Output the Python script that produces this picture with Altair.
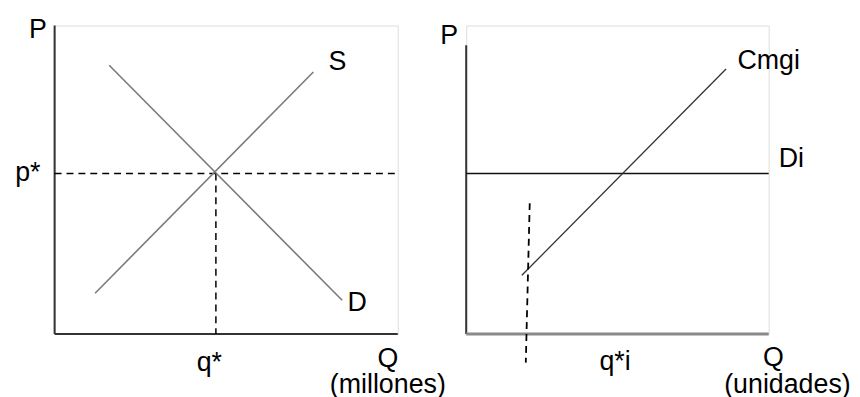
import altair as alt
import pandas as pd

FONT = "Liberation Sans"
FS = 27

# ---------- left panel: market ----------
p_star = 5.2
q_star = 4.7
supply_q = [1.18, 7.54]
supply_p = [1.32, 8.49]
demand_q = [1.59, 8.38]
demand_p = [8.71, 1.09]

left_labels = ["P", "S", "p*", "D", "q*", "Q", "(millones)"]
left_label_q = [-0.49, 8.24, -0.78, 8.82, 4.51, 9.71, 9.71]
left_label_p = [9.58, 8.55, 4.95, 0.74, -1.19, -1.06, -1.93]

# ---------- right panel: firm ----------
di_p = 5.2
cmg_q = [1.84, 8.59]
cmg_p = [1.90, 8.59]
qi_dash_q = [2.10, 1.97]
qi_dash_p = [4.24, -0.93]

right_labels = ["P", "Cmgi", "Di", "q*i", "Q", "(unidades)"]
right_label_q = [-0.56, 10.0, 10.75, 4.92, 10.16, 10.62]
right_label_p = [9.39, 8.59, 5.40, -1.16, -1.03, -1.93]

W1, W2, H = 346, 305, 311
xs = alt.Scale(domain=[0, 10], nice=False, zero=False)
ys = alt.Scale(domain=[0, 10], nice=False, zero=False)


def seg(q, p, color, width, dash=None):
    df = pd.DataFrame({"q": q, "p": p, "o": list(range(len(q)))})
    kw = dict(color=color, strokeWidth=width, clip=False, strokeCap="butt")
    if dash:
        kw["strokeDash"] = dash
    return alt.Chart(df).mark_line(**kw).encode(
        x=alt.X("q:Q", scale=xs, axis=None),
        y=alt.Y("p:Q", scale=ys, axis=None),
        order="o:Q",
    )


def labels(txt, q, p):
    df = pd.DataFrame({"t": txt, "q": q, "p": p})
    return alt.Chart(df).mark_text(
        font=FONT, fontSize=FS, color="#000000", align="center",
        baseline="alphabetic", clip=False
    ).encode(
        x=alt.X("q:Q", scale=xs, axis=None),
        y=alt.Y("p:Q", scale=ys, axis=None),
        text="t:N",
    )


left = alt.layer(
    seg([0, 0], [0, 10], "#333333", 2),
    seg([0, 10], [0, 0], "#333333", 2),
    seg([0, 10], [p_star, p_star], "#000000", 1.5, [7, 5]),
    seg([q_star, q_star], [p_star, 0], "#000000", 1.5, [7, 5]),
    seg(supply_q, supply_p, "#7a7a7a", 1.6),
    seg(demand_q, demand_p, "#7a7a7a", 1.6),
    labels(left_labels, left_label_q, left_label_p),
).properties(width=W1, height=H)

right = alt.layer(
    seg([0, 0], [0, 9.36], "#333333", 2),
    seg([0, 10], [0, 0], "#8a8a8a", 3),
    seg([0, 10], [di_p, di_p], "#111111", 1.5),
    seg(cmg_q, cmg_p, "#333333", 1.3),
    seg(qi_dash_q, qi_dash_p, "#000000", 1.8, [7, 5]),
    labels(right_labels, right_label_q, right_label_p),
).properties(width=W2, height=H)

chart = alt.hconcat(left, right, spacing=69, bounds="flush").properties(
    padding={"left": 6, "top": 6, "right": 0, "bottom": 0},
).configure_view(stroke=None).configure(background="white")

chart.save("out.html", embed_options={"renderer": "svg", "actions": False})
